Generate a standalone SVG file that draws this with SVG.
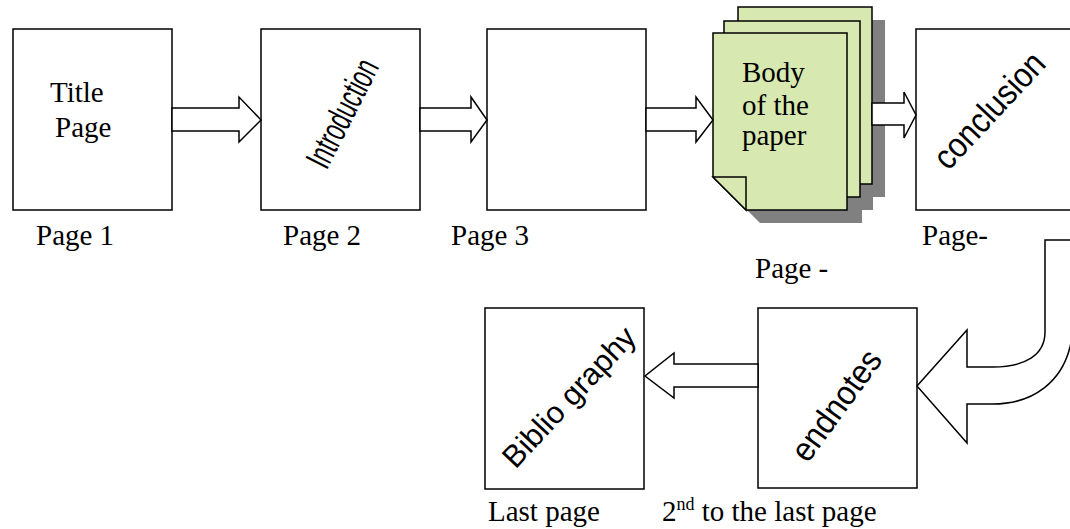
<svg xmlns="http://www.w3.org/2000/svg" width="1070" height="529" viewBox="0 0 1070 529">
<style>
.box{fill:#fff;stroke:#000;stroke-width:1.5}
.arr{fill:#fff;stroke:#000;stroke-width:1.5;stroke-linejoin:miter}
.pg{fill:#d7e9b0;stroke:#000;stroke-width:1.5}
.sh{fill:#808080;stroke:none}
.t{font-family:"Liberation Serif","Times New Roman",serif;font-size:29px;fill:#000}
.w{font-family:"Liberation Sans",Arial,sans-serif;fill:#000;text-anchor:middle;dominant-baseline:central}
</style>
<rect width="1070" height="529" fill="#fff"/>
<g id="title">
<rect class="box" x="13" y="29" width="159" height="181"/>
<text class="t" x="50" y="102">Title</text>
<text class="t" x="55" y="137">Page</text>
<text class="t" x="36" y="245">Page 1</text>
</g>
<g id="introduction">
<rect class="box" x="261" y="29" width="159" height="181"/>
<text class="w" font-size="36" transform="translate(342,113) rotate(-63) scale(0.62,1)">Introduction</text>
<text class="t" x="283" y="245">Page 2</text>
</g>
<g id="page3">
<rect class="box" x="487" y="29" width="159" height="181"/>
<text class="t" x="451" y="245">Page 3</text>
</g>
<g id="body">
<path class="sh" d="M751 20 L885 20 L885 197 L782 197 L751 164 Z"/>
<path class="sh" d="M737 34 L873 34 L873 210 L770 210 L737 177 Z"/>
<path class="sh" d="M727 46 L862 46 L862 223 L760 223 L727 190 Z"/>
<path class="pg" d="M738 7 L872 7 L872 184 L771 184 L738 151 Z"/>
<path class="pg" d="M724 21 L860 21 L860 197 L757 197 L724 164 Z"/>
<path class="pg" d="M713 33 L847 33 L847 210 L746 210 L713 177 Z"/>
<path class="pg" d="M713 177 L746 177 L746 210 Z"/>
<text class="t" x="742" y="82">Body</text>
<text class="t" x="742" y="115">of the</text>
<text class="t" x="742" y="145">paper</text>
<text class="t" x="755" y="278">Page -</text>
</g>
<g id="conclusion">
<rect class="box" x="916" y="29" width="170" height="181"/>
<text class="w" font-size="35" transform="translate(989,110) rotate(-47) scale(0.88,1)">conclusion</text>
<text class="t" x="922" y="245">Page-</text>
</g>
<g id="endnotes">
<rect class="box" x="758" y="308" width="159" height="180"/>
<text class="w" font-size="34" transform="translate(836,405) rotate(-54) scale(0.92,1)">endnotes</text>
<text class="t" x="662" y="521">2<tspan font-size="18" dy="-11">nd</tspan><tspan dy="11"> to the last page</tspan></text>
</g>
<g id="bibliography">
<rect class="box" x="485" y="308" width="159" height="181"/>
<text class="w" font-size="31" transform="translate(569,397) rotate(-47)">Biblio graphy</text>
<text class="t" x="488" y="521">Last page</text>
</g>
<g id="connectors">
<path class="arr" d="M172 108 L239 108 L239 97 L261 120 L239 142 L239 131 L172 131 Z"/>
<path class="arr" d="M420 108 L471 108 L471 97 L487 120 L471 142 L471 131 L420 131 Z"/>
<path class="arr" d="M646 108 L696 108 L696 97 L713 120 L696 142 L696 131 L646 131 Z"/>
<path class="arr" d="M872 103 L904 103 L904 92 L916 115 L904 138 L904 125 L872 125 Z"/>
<path class="arr" d="M758 364 L674 364 L674 353 L645 376 L674 398 L674 387 L758 387 Z"/>
<path class="arr" d="M1080 240 L1045 240 L1045 332 C1045 355 1025 367 993 367 L967 367 L967 330 L917 386 L967 443 L967 404 L993 404 C1035 404 1062 380 1070 347 L1080 300 Z"/>
</g>
</svg>
